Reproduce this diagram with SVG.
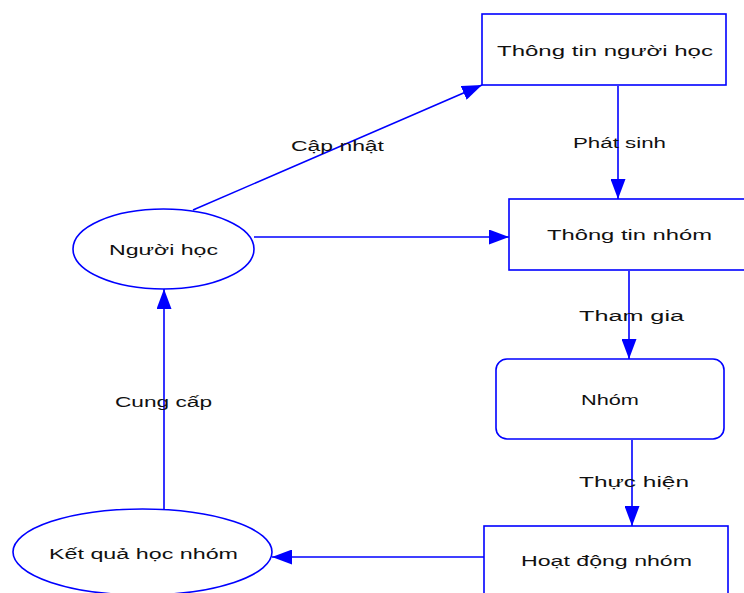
<svg xmlns="http://www.w3.org/2000/svg" width="744" height="593" viewBox="0 0 744 593">
  <style>
    .shape { fill: #ffffff; stroke: #0000ff; stroke-width: 1.6; }
    .edge { fill: none; stroke: #0000ff; stroke-width: 1.6; }
    .lbl { font-family: "Liberation Sans", Arial, sans-serif; font-size: 15.5px; fill: #111111; }
  </style>
  <defs>
    <marker id="arrow" markerUnits="userSpaceOnUse" markerWidth="20" markerHeight="15" refX="20" refY="7.5" orient="auto">
      <path d="M0,0 L20,7.5 L0,15 z" fill="#0000ff"/>
    </marker>
  </defs>

  <rect width="744" height="593" fill="#ffffff"/>

  <!-- connectors -->
  <g id="connectors">
    <line class="edge" x1="193" y1="210" x2="482" y2="85" marker-end="url(#arrow)"/>
    <text class="lbl" x="291" y="151" textLength="93" lengthAdjust="spacingAndGlyphs">Cập nhật</text>

    <line class="edge" x1="618" y1="86" x2="618" y2="199" marker-end="url(#arrow)"/>
    <text class="lbl" x="573" y="148" textLength="93" lengthAdjust="spacingAndGlyphs">Phát sinh</text>

    <line class="edge" x1="254" y1="237" x2="509" y2="237" marker-end="url(#arrow)"/>

    <line class="edge" x1="629" y1="271" x2="629" y2="359" marker-end="url(#arrow)"/>
    <text class="lbl" x="579" y="321" textLength="105" lengthAdjust="spacingAndGlyphs">Tham gia</text>

    <line class="edge" x1="632" y1="440" x2="632" y2="526" marker-end="url(#arrow)"/>
    <text class="lbl" x="579" y="487" textLength="110" lengthAdjust="spacingAndGlyphs">Thực hiện</text>

    <line class="edge" x1="484" y1="557" x2="272" y2="557" marker-end="url(#arrow)"/>

    <line class="edge" x1="164" y1="509" x2="164" y2="289" marker-end="url(#arrow)"/>
    <text class="lbl" x="115" y="407" textLength="97" lengthAdjust="spacingAndGlyphs">Cung cấp</text>
  </g>

  <!-- nodes -->
  <g id="thong-tin-nguoi-hoc">
    <rect class="shape" x="482" y="14" width="244" height="71"/>
    <text class="lbl" x="497" y="56" textLength="216" lengthAdjust="spacingAndGlyphs">Thông tin người học</text>
  </g>

  <g id="thong-tin-nhom">
    <rect class="shape" x="509" y="199" width="245" height="71"/>
    <text class="lbl" x="547" y="240" textLength="165" lengthAdjust="spacingAndGlyphs">Thông tin nhóm</text>
  </g>

  <g id="nhom">
    <rect class="shape" x="496" y="359" width="228" height="80" rx="11" ry="11"/>
    <text class="lbl" x="581" y="405" textLength="58" lengthAdjust="spacingAndGlyphs">Nhóm</text>
  </g>

  <g id="hoat-dong-nhom">
    <rect class="shape" x="484" y="526" width="244" height="80"/>
    <text class="lbl" x="521" y="566" textLength="171" lengthAdjust="spacingAndGlyphs">Hoạt động nhóm</text>
  </g>

  <g id="nguoi-hoc">
    <ellipse class="shape" cx="163.5" cy="249" rx="90.5" ry="40"/>
    <text class="lbl" x="109" y="255" textLength="109" lengthAdjust="spacingAndGlyphs">Người học</text>
  </g>

  <g id="ket-qua-hoc-nhom">
    <ellipse class="shape" cx="142.5" cy="552" rx="129.5" ry="43"/>
    <text class="lbl" x="49" y="559" textLength="189" lengthAdjust="spacingAndGlyphs">Kết quả học nhóm</text>
  </g>
</svg>
